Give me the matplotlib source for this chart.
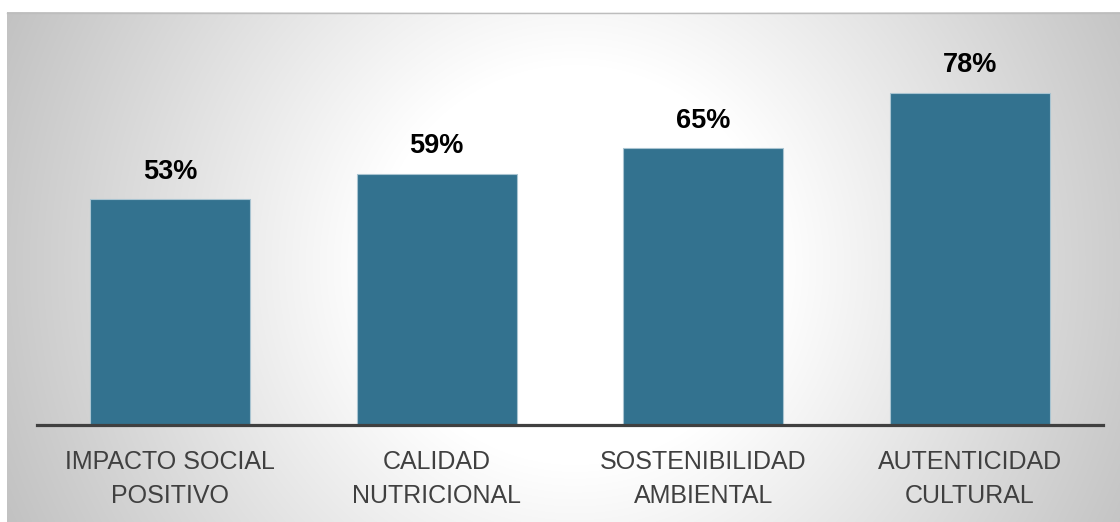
import numpy as np
import matplotlib
matplotlib.use("Agg")
import matplotlib.pyplot as plt

categories = [("IMPACTO SOCIAL", "POSITIVO"), ("CALIDAD", "NUTRICIONAL"),
              ("SOSTENIBILIDAD", "AMBIENTAL"), ("AUTENTICIDAD", "CULTURAL")]
values = [53, 59, 65, 78]
value_labels = ["53%", "59%", "65%", "78%"]

W, H, DPI = 1120, 522, 100
fig = plt.figure(figsize=(W / DPI, H / DPI), dpi=DPI)
fig.patch.set_facecolor("white")

# background radial gradient panel
bg = fig.add_axes([0, 0, 1, 1], zorder=0)
bg.set_xlim(0, W)
bg.set_ylim(H, 0)
bg.axis("off")
x0, x1, y0, y1 = 7, W, 12, H
xs = np.arange(x0, x1) + 0.5
ys = np.arange(y0, y1) + 0.5
X, Y = np.meshgrid(xs, ys)
cx, cy = 575, 265
r = np.hypot(X - cx, Y - cy)
t = np.clip((r - 200) / (640 - 200), 0, 1)
g = 1 - t * (1 - 0.75)
img = np.dstack([g, g, g])
bg.imshow(img, extent=(x0, x1, y1, y0), aspect="auto", interpolation="bilinear")
bg.plot([x0, x1], [y0 + 0.5, y0 + 0.5], color="#bdbdbd", lw=1.0)

# main axes
left, right = 37, 1103
base, top = 425, 12
scale = 4.26
ax = fig.add_axes([left / W, (H - base) / H, (right - left) / W, (base - top) / H], zorder=1)
ax.patch.set_alpha(0)
ax.set_xlim(-0.5, len(values) - 0.5)
ax.set_ylim(0, (base - top) / scale)
x = np.arange(len(values))
ax.bar(x, values, width=0.6, color="#33728f", edgecolor="#a9c4d1", linewidth=0.8, zorder=2)
for s in ["top", "left", "right"]:
    ax.spines[s].set_visible(False)
ax.spines["bottom"].set_color("#404040")
ax.spines["bottom"].set_linewidth(2.3)
ax.spines["bottom"].set_zorder(3)
ax.set_xticks([])
ax.set_yticks([])

for xi, v, lab in zip(x, values, value_labels):
    ax.annotate(lab, xy=(xi, v), xytext=(0, 20.5 * 0.72), textcoords="offset points",
                ha="center", va="baseline", fontsize=19.5, fontweight="bold",
                family="Liberation Sans", color="black")

for xi, (l1, l2) in zip(x, categories):
    ax.annotate(l1, xy=(xi, 0), xycoords=("data", "data"), xytext=(0, -44 * 0.72),
                textcoords="offset points", ha="center", va="baseline",
                fontsize=18, family="Liberation Sans", color="#404040", annotation_clip=False)
    ax.annotate(l2, xy=(xi, 0), xycoords=("data", "data"), xytext=(0, -78 * 0.72),
                textcoords="offset points", ha="center", va="baseline",
                fontsize=18, family="Liberation Sans", color="#404040", annotation_clip=False)

fig.savefig("out.png", dpi=DPI)
